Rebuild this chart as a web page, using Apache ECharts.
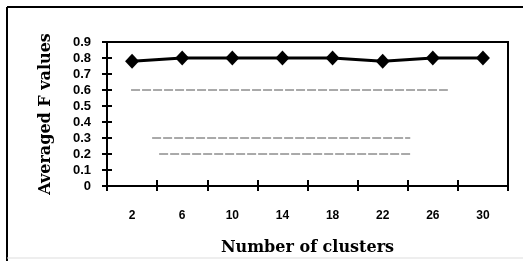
<!DOCTYPE html>
<html>
<head>
<meta charset="utf-8">
<script src="https://cdn.jsdelivr.net/npm/echarts@6/dist/echarts.min.js"></script>
<style>html,body{margin:0;padding:0;background:#fff}#c{width:523px;height:261px}</style>
</head>
<body>
<div id="c"></div>
<script>
var categories = ['2', '6', '10', '14', '18', '22', '26', '30'];
var fValues = [0.78, 0.80, 0.80, 0.80, 0.80, 0.78, 0.80, 0.80];
var yTicks = [0, 0.1, 0.2, 0.3, 0.4, 0.5, 0.6, 0.7, 0.8, 0.9];
// faint scanned guide lines: [start, y value], [end, y value] along category index scale
var guide06 = [[0.48, 0.6], [6.8, 0.6]];
var guide03 = [[0.9, 0.3], [6.05, 0.3]];
var guide02 = [[1.04, 0.2], [6.05, 0.2]];

var chart = echarts.init(document.getElementById('c'));
var serif = 'DejaVu Serif';
var yAxisBase = {
  type: 'value', min: 0, max: 0.9, interval: 0.1, position: 'left',
  axisLine: {show: true, lineStyle: {color: '#000', width: 2}},
  splitLine: {show: false}
};
var guideStyle = {color: '#555', width: 1, type: [9, 2]};
function guide(d) {
  return {type: 'line', xAxisIndex: 2, yAxisIndex: 0, data: d, symbol: 'none',
    lineStyle: guideStyle, silent: true, z: 1};
}
chart.setOption({
  animation: false,
  grid: {left: 107, right: 15, top: 42, bottom: 73, show: true, borderColor: '#000', borderWidth: 2},
  xAxis: [
    {type: 'category', data: categories, boundaryGap: true, position: 'bottom',
      axisLine: {lineStyle: {color: '#000', width: 2}},
      axisTick: {show: true, length: 5, inside: false, lineStyle: {width: 2}},
      axisLabel: {color: '#000', fontWeight: 'bold', fontSize: 12, fontFamily: 'Liberation Sans', margin: 24},
      name: 'Number of clusters', nameLocation: 'middle', nameGap: 54,
      nameTextStyle: {color: '#000', fontWeight: 'bold', fontSize: 16, fontFamily: serif}},
    {type: 'category', data: categories, boundaryGap: true, position: 'bottom',
      axisLine: {show: false},
      axisTick: {show: true, length: 6, inside: true, lineStyle: {width: 2, color: '#000'}},
      axisLabel: {show: false}},
    {type: 'value', min: 0, max: 8, show: false}
  ],
  yAxis: [
    Object.assign({}, yAxisBase, {
      axisTick: {show: true, length: 5, inside: false, lineStyle: {width: 2}},
      axisLabel: {color: '#000', fontWeight: 'bold', fontSize: 13, fontFamily: 'Liberation Sans', margin: 16,
        formatter: function (v) { return String(Math.round(v * 10) / 10); }},
      name: 'Averaged F values', nameLocation: 'middle', nameGap: 53, nameRotate: 90,
      nameTextStyle: {color: '#000', fontWeight: 'bold', fontSize: 16, fontFamily: serif}
    }),
    Object.assign({}, yAxisBase, {
      axisLine: {show: false},
      axisTick: {show: true, length: 5, inside: true, lineStyle: {width: 2, color: '#000'}},
      axisLabel: {show: false}
    })
  ],
  series: [
    guide(guide06), guide(guide03), guide(guide02),
    {type: 'line', xAxisIndex: 0, yAxisIndex: 0, data: fValues, symbol: 'diamond', symbolSize: [14, 15],
      itemStyle: {color: '#000'}, lineStyle: {color: '#000', width: 3}, z: 5}
  ],
  graphic: [
    {type: 'line', shape: {x1: 7, y1: 7, x2: 7, y2: 261}, style: {stroke: '#000', lineWidth: 2}},
    {type: 'line', shape: {x1: 7, y1: 7, x2: 523, y2: 7}, style: {stroke: '#000', lineWidth: 2}},
    {type: 'line', shape: {x1: 7, y1: 258, x2: 523, y2: 258}, style: {stroke: '#ddd', lineWidth: 1}}
  ]
});
</script>
</body>
</html>
